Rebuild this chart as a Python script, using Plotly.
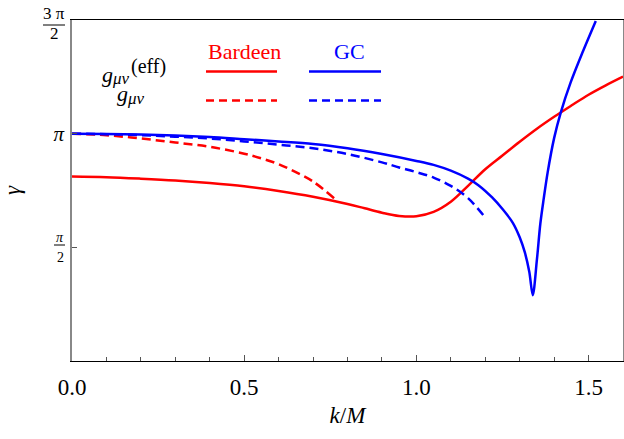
import math
import plotly.graph_objects as go

PI = math.pi

# ---- data ----
bardeen_eff_x = [0, 0.1, 0.2, 0.3, 0.4, 0.5, 0.6, 0.7, 0.8, 0.85, 0.9, 0.95, 1.0, 1.05, 1.1, 1.15, 1.2, 1.25, 1.3, 1.35, 1.4, 1.45, 1.5, 1.55, 1.6]
bardeen_eff_y = [2.55, 2.54, 2.52, 2.495, 2.46, 2.415, 2.35, 2.27, 2.17, 2.11, 2.05, 2.005, 2.00, 2.06, 2.20, 2.42, 2.65, 2.84, 3.03, 3.21, 3.375, 3.53, 3.68, 3.81, 3.93]

bardeen_g_x = [0, 0.1, 0.2, 0.3, 0.4, 0.5, 0.55, 0.6, 0.65, 0.7, 0.761]
bardeen_g_y = [3.1416, 3.12, 3.075, 3.02, 2.96, 2.865, 2.80, 2.72, 2.61, 2.48, 2.25]

gc_eff_x = [0, 0.1, 0.2, 0.3, 0.4, 0.5, 0.6, 0.7, 0.8, 0.9, 1.0, 1.05, 1.1, 1.15, 1.18, 1.22, 1.25, 1.28, 1.30, 1.315, 1.328, 1.338,
            1.350, 1.360, 1.370, 1.381, 1.400, 1.419, 1.448, 1.482, 1.521]
gc_eff_y = [3.1416, 3.138, 3.13, 3.115, 3.095, 3.065, 3.035, 3.0, 2.94, 2.86, 2.765, 2.71, 2.63, 2.52, 2.43, 2.26, 2.10, 1.91, 1.71, 1.50, 1.23, 0.91,
            1.40, 1.90, 2.25, 2.60, 3.08, 3.43, 3.85, 4.26, 4.70]

gc_g_x = [0, 0.1, 0.2, 0.3, 0.4, 0.5, 0.6, 0.7, 0.8, 0.9, 0.95, 1.0, 1.05, 1.1, 1.15, 1.202]
gc_g_y = [3.1416, 3.135, 3.12, 3.10, 3.075, 3.035, 2.99, 2.94, 2.86, 2.745, 2.675, 2.61, 2.535, 2.42, 2.25, 1.97]

x_tickvals = [0.0, 0.5, 1.0, 1.5]
x_ticktext = ["0.0", "0.5", "1.0", "1.5"]
y_tickvals = [PI / 2, PI, 3 * PI / 2]
y_ticktext = ["", "<i>π</i>", ""]

RED = "#FF0000"
BLUE = "#0000FF"
FONT = "Liberation Serif"

# ---- layout geometry (pixels) ----
W_FIG, H_FIG = 624, 439
L, R, T, B = 72, 1, 20, 78
PW = W_FIG - L - R
PH = H_FIG - T - B


def pxx(x):
    return (x - L) / PW


def pxy(y):
    return (T + PH - y) / PH


fig = go.Figure()

fig.add_trace(go.Scatter(x=bardeen_eff_x, y=bardeen_eff_y, mode="lines",
                         line=dict(color=RED, width=2.5, shape="spline", smoothing=1.0),
                         showlegend=False))
fig.add_trace(go.Scatter(x=bardeen_g_x, y=bardeen_g_y, mode="lines",
                         line=dict(color=RED, width=2.5, dash="9px,5px", shape="spline", smoothing=1.0),
                         showlegend=False))
fig.add_trace(go.Scatter(x=gc_eff_x, y=gc_eff_y, mode="lines",
                         line=dict(color=BLUE, width=2.5, shape="spline", smoothing=0.9),
                         showlegend=False))
fig.add_trace(go.Scatter(x=gc_g_x, y=gc_g_y, mode="lines",
                         line=dict(color=BLUE, width=2.5, dash="9px,5px", shape="spline", smoothing=1.0),
                         showlegend=False))

shapes = []
# legend lines
for (x0, x1, y, color, dash) in [
    (206, 277, 71.5, RED, "solid"),
    (206, 277, 100.5, RED, "8px,5px"),
    (309, 381, 71.5, BLUE, "solid"),
    (309, 381, 100.5, BLUE, "8px,5px"),
]:
    shapes.append(dict(type="line", xref="paper", yref="paper",
                       x0=pxx(x0), x1=pxx(x1), y0=pxy(y), y1=pxy(y),
                       line=dict(color=color, width=2.5, dash=dash)))
# fraction bars for y tick labels
shapes.append(dict(type="line", xref="paper", yref="paper",
                   x0=pxx(43), x1=pxx(65), y0=pxy(25), y1=pxy(25),
                   line=dict(color="black", width=1)))
shapes.append(dict(type="line", xref="paper", yref="paper",
                   x0=pxx(54), x1=pxx(65), y0=pxy(245), y1=pxy(245),
                   line=dict(color="black", width=1)))

annotations = []


def ann(text, x, y, size, color="black", xanchor="center", yanchor="middle", **kw):
    annotations.append(dict(text=text, x=pxx(x), y=pxy(y), xref="paper", yref="paper",
                            showarrow=False, xanchor=xanchor, yanchor=yanchor, borderpad=0,
                            font=dict(family=FONT, size=size, color=color), **kw))


ann("Bardeen", 245, 51, 22, RED)
ann("GC", 349, 51, 22, BLUE)
# g_{μν}^{(eff)}
ann("<i>g</i>", 101, 74, 22, xanchor="left")
ann("<i>μν</i>", 111, 79, 17, xanchor="left")
ann("(eff)", 130, 66, 20, xanchor="left")
# g_{μν}
ann("<i>g</i>", 116, 93, 22, xanchor="left")
ann("<i>μν</i>", 126, 98, 17, xanchor="left")
# y tick fractions
ann("3 π", 54, 13, 17)
ann("2", 54, 34, 17)
ann("<i>π</i>", 60, 237, 14)
ann("2", 60, 257, 14)

fig.update_layout(
    width=W_FIG, height=H_FIG,
    margin=dict(l=L, r=R, t=T, b=B, autoexpand=False),
    plot_bgcolor="white", paper_bgcolor="white",
    font=dict(family=FONT, size=22, color="black"),
    shapes=shapes, annotations=annotations,
    xaxis=dict(range=[0, 1.6], tickvals=x_tickvals, ticktext=x_ticktext,
               ticks="inside", ticklen=6, tickwidth=1, tickcolor="#555",
               minor=dict(dtick=0.1, tick0=0, ticks="inside", ticklen=4, tickcolor="#555"),
               showline=True, linecolor="black", linewidth=1, mirror=True,
               showgrid=False, zeroline=False, automargin=False,
               tickfont=dict(family=FONT, size=23, color="black"), ticklabelstandoff=5,
               title=dict(text="<i>k</i>/<i>M</i>", font=dict(family=FONT, size=23), standoff=8)),
    yaxis=dict(range=[0, 1.5 * PI], tickvals=y_tickvals, ticktext=y_ticktext,
               ticks="inside", ticklen=5, tickwidth=1, tickcolor="#555",
               showline=True, linecolor="#888", linewidth=1.5, mirror=True,
               showgrid=False, zeroline=False, automargin=False,
               tickfont=dict(family=FONT, size=21, color="black"), ticklabelstandoff=2,
               title=dict(text="<i>γ</i>", font=dict(family=FONT, size=23), standoff=28)),
)

fig.write_html("out.html")
